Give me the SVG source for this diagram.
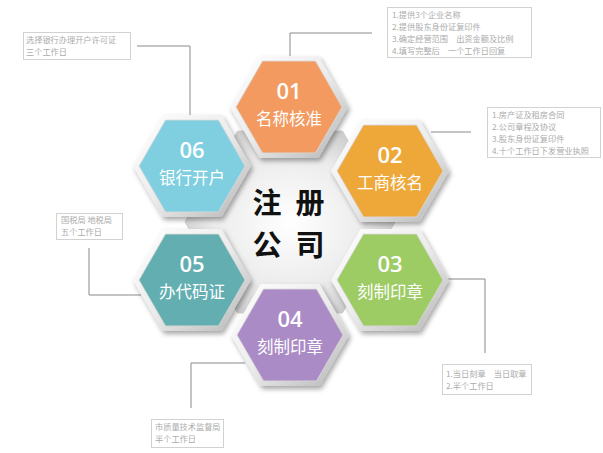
<svg xmlns="http://www.w3.org/2000/svg" width="603" height="453" viewBox="0 0 603 453">
<style>
.num{font-family:"Open Sans","Noto Sans",sans-serif;font-size:22px;font-weight:600;fill:#fff;text-anchor:middle;}
.lab{font-family:"Noto Sans CJK SC","Noto Sans",sans-serif;font-size:16.5px;fill:#fff;text-anchor:middle;}
.ctr{font-family:"Noto Sans CJK SC",sans-serif;font-size:29px;font-weight:bold;fill:#111;text-anchor:middle;}
.note{font-family:"Noto Sans CJK SC","Noto Sans",sans-serif;font-size:8.2px;fill:#ababab;}
.box{fill:#fff;stroke:#d2d2d2;stroke-width:1;}
.conn{fill:none;stroke:#8a8a8a;stroke-width:1;}
</style>
<defs>
<linearGradient id="rim" x1="0" y1="0" x2="1" y2="1">
<stop offset="0" stop-color="#ffffff"/>
<stop offset="0.5" stop-color="#ececec"/>
<stop offset="1" stop-color="#b5b5b5"/>
</linearGradient>
<radialGradient id="cg" cx="0.5" cy="0.5" r="0.6">
<stop offset="0" stop-color="#ffffff"/>
<stop offset="0.6" stop-color="#ececec"/>
<stop offset="1" stop-color="#c4c4c4"/>
</radialGradient>
<filter id="sh" x="-20%" y="-20%" width="150%" height="150%">
<feDropShadow dx="2" dy="3" stdDeviation="2.5" flood-color="#000" flood-opacity="0.35"/>
</filter>
<polygon id="hexO" points="-59,0 -29.5,-51 29.5,-51 59,0 29.5,51 -29.5,51"/>
<polygon id="hexI" points="-53,0 -26.5,-45.9 26.5,-45.9 53,0 26.5,45.9 -26.5,45.9"/>
</defs>
<rect width="603" height="453" fill="#fff"/>

<g id="center">
<polygon points="185,222 237.5,131 342.5,131 395,222 342.5,313 237.5,313" fill="url(#cg)" stroke="#cfcfcf" stroke-width="1"/>
<text class="ctr" x="267" y="214">注</text>
<text class="ctr" x="310" y="214">册</text>
<text class="ctr" x="267" y="256">公</text>
<text class="ctr" x="310" y="256">司</text>
</g>

<g id="connectors">
<polyline class="conn" points="372,33 290,33 290,57"/>
<polyline class="conn" points="471,132 431,132"/>
<polyline class="conn" points="137,46 190,46 190,115"/>
<polyline class="conn" points="89,248 89,295 141,295"/>
<polyline class="conn" points="446,279 485,279 485,353"/>
<polyline class="conn" points="245,363 191,363 191,408"/>
</g>

<g id="node01" transform="translate(289,107)">
<use href="#hexO" fill="url(#rim)" filter="url(#sh)"/>
<use href="#hexI" fill="#F29A5F" stroke="#d8d8d8" stroke-width="0.8"/>
<text class="num" y="-8">01</text>
<text class="lab" y="18">名称核准</text>
</g>
<g id="node02" transform="translate(390,171)">
<use href="#hexO" fill="url(#rim)" filter="url(#sh)"/>
<use href="#hexI" fill="#EEA83A" stroke="#d8d8d8" stroke-width="0.8"/>
<text class="num" y="-8">02</text>
<text class="lab" y="18">工商核名</text>
</g>
<g id="node03" transform="translate(390,280)">
<use href="#hexO" fill="url(#rim)" filter="url(#sh)"/>
<use href="#hexI" fill="#9DCB64" stroke="#d8d8d8" stroke-width="0.8"/>
<text class="num" y="-8">03</text>
<text class="lab" y="18">刻制印章</text>
</g>
<g id="node04" transform="translate(290,335)">
<use href="#hexO" fill="url(#rim)" filter="url(#sh)"/>
<use href="#hexI" fill="#AA8BC5" stroke="#d8d8d8" stroke-width="0.8"/>
<text class="num" y="-8">04</text>
<text class="lab" y="18">刻制印章</text>
</g>
<g id="node05" transform="translate(192,280)">
<use href="#hexO" fill="url(#rim)" filter="url(#sh)"/>
<use href="#hexI" fill="#62AEB1" stroke="#d8d8d8" stroke-width="0.8"/>
<text class="num" y="-8">05</text>
<text class="lab" y="18">办代码证</text>
</g>
<g id="node06" transform="translate(192,166)">
<use href="#hexO" fill="url(#rim)" filter="url(#sh)"/>
<use href="#hexI" fill="#80CFE0" stroke="#d8d8d8" stroke-width="0.8"/>
<text class="num" y="-8">06</text>
<text class="lab" y="18">银行开户</text>
</g>

<g id="note01">
<rect class="box" x="387.5" y="7.5" width="144" height="50"/>
<text class="note" x="392" y="18">1.提供3个企业名称</text>
<text class="note" x="392" y="30">2.提供股东身份证复印件</text>
<text class="note" x="392" y="42">3.确定经营范围　出资金额及比例</text>
<text class="note" x="392" y="54">4.填写完整后　一个工作日回复</text>
</g>
<g id="note02">
<rect class="box" x="487.5" y="107.5" width="113" height="50"/>
<text class="note" x="492" y="118">1.房产证及租房合同</text>
<text class="note" x="492" y="130">2.公司章程及协议</text>
<text class="note" x="492" y="142">3.股东身份证复印件</text>
<text class="note" x="492" y="154">4.十个工作日下发营业执照</text>
</g>
<g id="note06">
<rect class="box" x="23.5" y="32.5" width="107" height="27"/>
<text class="note" x="26" y="43">选择银行办理开户许可证</text>
<text class="note" x="26" y="55">三个工作日</text>
</g>
<g id="note05">
<rect class="box" x="56.5" y="213.5" width="66" height="26"/>
<text class="note" x="61" y="223">国税局 地税局</text>
<text class="note" x="61" y="235">五个工作日</text>
</g>
<g id="note03">
<rect class="box" x="442.5" y="364.5" width="89" height="30"/>
<text class="note" x="446" y="377">1.当日刻章　当日取章</text>
<text class="note" x="446" y="389">2.半个工作日</text>
</g>
<g id="note04">
<rect class="box" x="151.5" y="419.5" width="72" height="28"/>
<text class="note" x="155" y="430">市质量技术监督局</text>
<text class="note" x="155" y="442">半个工作日</text>
</g>
</svg>
